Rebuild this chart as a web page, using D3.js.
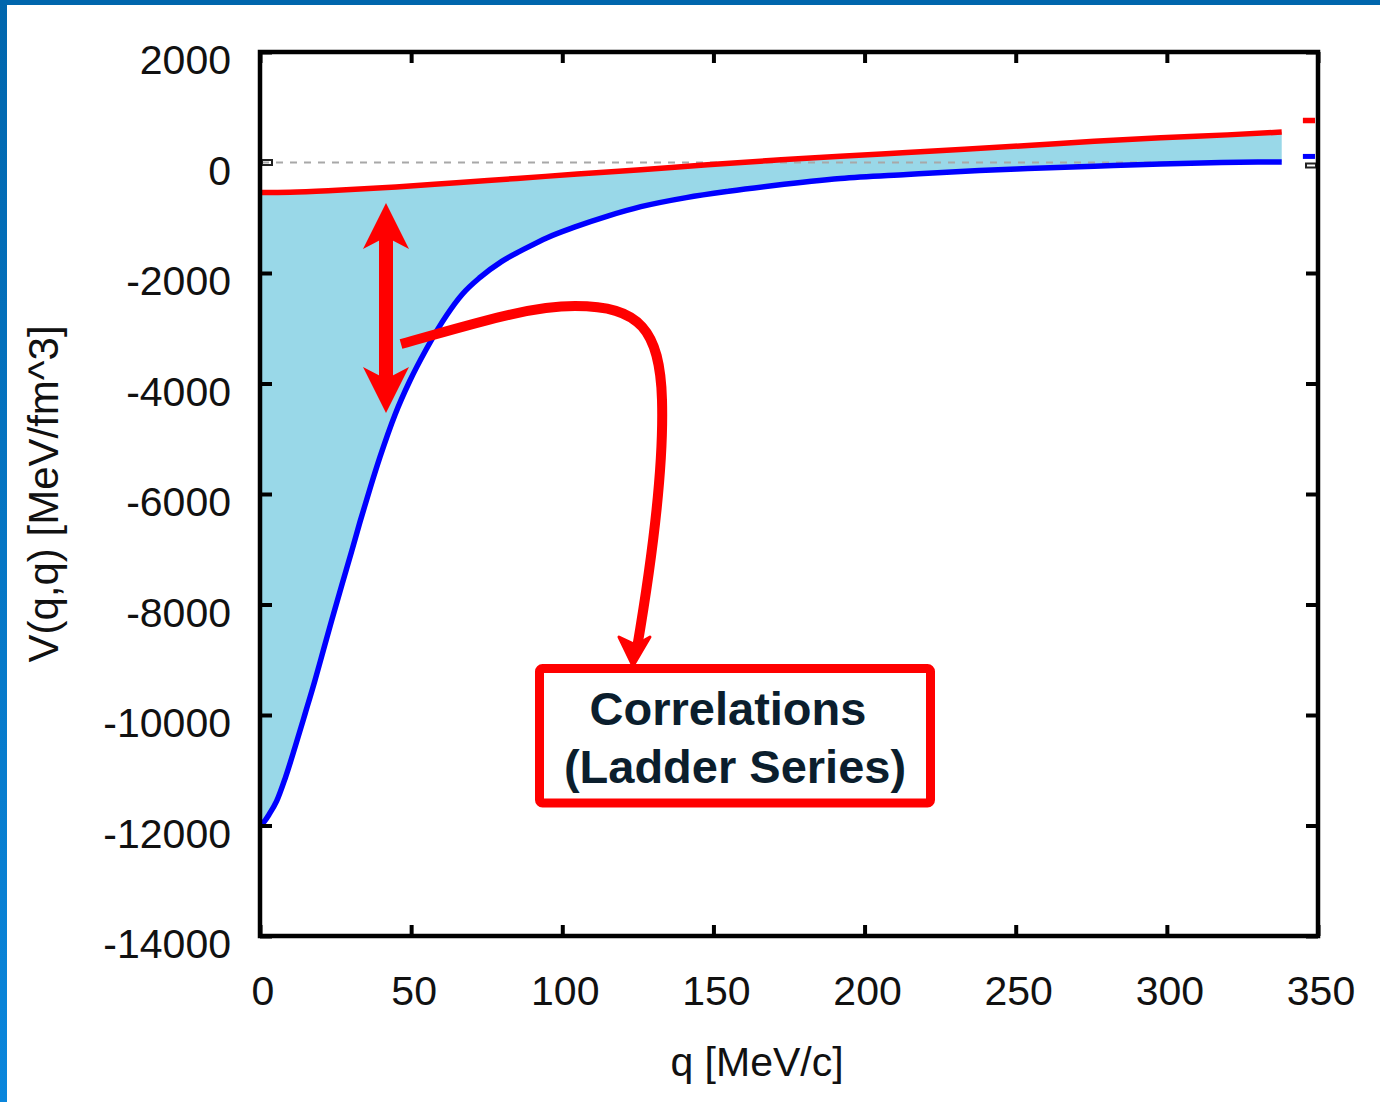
<!DOCTYPE html>
<html>
<head>
<meta charset="utf-8">
<script src="https://cdn.jsdelivr.net/npm/d3@7"></script>
<style>
  html, body { margin: 0; padding: 0; background: #fff; }
  svg { display: block; }
</style>
</head>
<body>
<svg id="chart" width="1380" height="1102"></svg>
<script>
// values
const xTicks = [0, 50, 100, 150, 200, 250, 300, 350];
const yTicks = [2000, 0, -2000, -4000, -6000, -8000, -10000, -12000, -14000];

// bare interaction (red), q [MeV/c] -> V [MeV fm^3]
const bareQ = [0, 10, 24, 45, 65, 85, 105, 126, 148, 170, 192, 214, 233, 254, 276, 298, 320, 338];
const bareV = [-545, -538, -508, -445, -365, -288, -210, -130, -40, 40, 115, 180, 238, 308, 385, 448, 500, 550];

// ladder-summed interaction (blue)
const ladderQ = [0, 1, 3, 5.5, 8.3, 11.6, 14.9, 18.2, 21, 23.7, 27, 30.3, 33.1, 36.4, 39.7, 44.7, 49.5, 55, 61.8, 67, 72.8, 80, 88, 95, 104, 115, 126, 141, 155, 170, 192, 214, 238, 254, 276, 298, 318, 338];
const ladderV = [-11980, -11950, -11800, -11560, -11150, -10580, -9980, -9370, -8820, -8290, -7660, -7040, -6500, -5900, -5330, -4560, -3960, -3380, -2760, -2380, -2080, -1790, -1550, -1360, -1170, -970, -800, -635, -520, -416, -290, -217, -145, -110, -66, -25, 0, 10];

// stray key marks at the right edge
const edgeQ = [345, 349];
const edgeRed = 760;
const edgeBlue = 110;

const svg = d3.select("#chart");

const x = d3.scaleLinear().domain([0, 350]).range([260, 1318]);
const y = d3.scaleLinear().domain([-14000, 2000]).range([936, 52]);

// slide border
const grad = svg.append("defs").append("linearGradient")
  .attr("id", "edge").attr("x1", 0).attr("y1", 0).attr("x2", 0).attr("y2", 1);
grad.append("stop").attr("offset", "0%").attr("stop-color", "#0066ad");
grad.append("stop").attr("offset", "100%").attr("stop-color", "#0a86dc");
svg.append("rect").attr("x", 0).attr("y", 0).attr("width", 1380).attr("height", 5).attr("fill", "#0066ad");
svg.append("rect").attr("x", 0).attr("y", 0).attr("width", 7).attr("height", 1102).attr("fill", "url(#edge)");

const bare = bareQ.map((q, i) => ({ q, v: bareV[i] }));
const ladder = ladderQ.map((q, i) => ({ q, v: ladderV[i] }));

// fill between the two curves, sampled on the union of q points
const qs = Array.from(new Set(bareQ.concat(ladderQ))).sort((a, b) => a - b);
const interp = (Q, V, q) => {
  const i = d3.bisectLeft(Q, q);
  if (i <= 0) return V[0];
  if (i >= Q.length) return V[V.length - 1];
  const t = (q - Q[i - 1]) / (Q[i] - Q[i - 1]);
  return V[i - 1] + t * (V[i] - V[i - 1]);
};
const fillData = qs.map(q => ({ q, top: interp(bareQ, bareV, q), bot: interp(ladderQ, ladderV, q) }));

svg.append("path")
  .datum(fillData)
  .attr("fill", "#99d8e8")
  .attr("d", d3.area().x(d => x(d.q)).y0(d => y(d.bot)).y1(d => y(d.top)).curve(d3.curveMonotoneX));

// zero line
svg.append("line")
  .attr("x1", x(0) + 2).attr("x2", x(338))
  .attr("y1", y(0)).attr("y2", y(0))
  .attr("stroke", "#a8a8a8")
  .attr("stroke-width", 1.8).attr("stroke-dasharray", "7,7");

const line = d3.line().x(d => x(d.q)).y(d => y(d.v)).curve(d3.curveMonotoneX);

svg.append("path").datum(ladder)
  .attr("fill", "none").attr("stroke", "#0000ff").attr("stroke-width", 5.5)
  .attr("d", line);
svg.append("path").datum(bare)
  .attr("fill", "none").attr("stroke", "#ff0000").attr("stroke-width", 5.5)
  .attr("d", line);

svg.append("line").attr("x1", x(edgeQ[0])).attr("x2", x(edgeQ[1]))
  .attr("y1", y(edgeRed)).attr("y2", y(edgeRed)).attr("stroke", "#ff0000").attr("stroke-width", 5.5);
svg.append("line").attr("x1", x(edgeQ[0])).attr("x2", x(edgeQ[1]))
  .attr("y1", y(edgeBlue)).attr("y2", y(edgeBlue)).attr("stroke", "#0000ff").attr("stroke-width", 5);

// zero tick marks ("=")
svg.append("rect").attr("x", x(0) + 2).attr("y", y(0) - 2.5).attr("width", 10).attr("height", 5)
  .attr("fill", "none").attr("stroke", "#222").attr("stroke-width", 2);
svg.append("rect").attr("x", x(350) - 12).attr("y", y(0) + 1).attr("width", 10).attr("height", 4)
  .attr("fill", "none").attr("stroke", "#222").attr("stroke-width", 2);

// axes with inward ticks
const font = "'Liberation Sans', Arial, sans-serif";

const gl = svg.append("g").attr("transform", `translate(${x(0)},0)`)
  .call(d3.axisLeft(y).tickValues(yTicks.filter(v => v !== 0)).tickSize(-12).tickFormat(""));
const gr = svg.append("g").attr("transform", `translate(${x(350)},0)`)
  .call(d3.axisRight(y).tickValues(yTicks.filter(v => v !== 0)).tickSize(-12).tickFormat(""));
const gb = svg.append("g").attr("transform", `translate(0,${y(-14000)})`)
  .call(d3.axisBottom(x).tickValues(xTicks).tickSize(-11).tickFormat(""));
const gt = svg.append("g").attr("transform", `translate(0,${y(2000)})`)
  .call(d3.axisTop(x).tickValues(xTicks).tickSize(-11).tickFormat(""));
[gl, gr, gb, gt].forEach(g => {
  g.select(".domain").remove();
  g.selectAll(".tick line").attr("stroke", "#000").attr("stroke-width", 4);
});

// frame
svg.append("rect")
  .attr("x", x(0)).attr("y", y(2000))
  .attr("width", x(350) - x(0)).attr("height", y(-14000) - y(2000))
  .attr("fill", "none").attr("stroke", "#000").attr("stroke-width", 4.5);

// tick labels
svg.append("g").selectAll("text").data(yTicks).join("text")
  .attr("x", 231).attr("y", d => y(d) + 8)
  .attr("dy", "0.35em")
  .attr("text-anchor", "end")
  .style("font-family", font).style("font-size", "41px").attr("fill", "#111")
  .text(d => d);
svg.append("g").selectAll("text").data(xTicks).join("text")
  .attr("x", d => x(d) + 3).attr("y", 1005)
  .attr("text-anchor", "middle")
  .style("font-family", font).style("font-size", "41px").attr("fill", "#111")
  .text(d => d);

// axis titles
svg.append("text")
  .attr("x", 757).attr("y", 1076)
  .attr("text-anchor", "middle")
  .style("font-family", font).style("font-size", "41px").attr("fill", "#111")
  .text("q [MeV/c]");
svg.append("text")
  .attr("transform", "translate(58,494) rotate(-90)")
  .attr("text-anchor", "middle")
  .style("font-family", font).style("font-size", "42px").attr("fill", "#111")
  .text("V(q,q) [MeV/fm^3]");

// annotation: double arrow between the curves
const red = "#ff0000";
const ax = 386;
const head = (tipY, dir) => {
  // notched arrowhead, dir = -1 points up, +1 points down
  const b = tipY - dir * 46, n = tipY - dir * 34;
  return `M${ax},${tipY} L${ax + 23},${b} L${ax},${n} L${ax - 23},${b} Z`;
};
svg.append("rect").attr("x", ax - 7).attr("y", 236).attr("width", 14).attr("height", 143).attr("fill", red);
svg.append("path").attr("d", head(203, -1)).attr("fill", red);
svg.append("path").attr("d", head(413, 1)).attr("fill", red);

// curved pointer to the label box
svg.append("path")
  .attr("d", "M401,344 C480,322 530,306 575,306 C640,306 660,330 662,400 C664,470 652,560 637,648")
  .attr("fill", "none").attr("stroke", red).attr("stroke-width", 10);
svg.append("path")
  .attr("d", "M633,666 L650,637 L636,645 L619,637 Z")
  .attr("fill", red).attr("stroke", red).attr("stroke-width", 3).attr("stroke-linejoin", "round");

// label box
svg.append("rect")
  .attr("x", 539.5).attr("y", 668.5).attr("width", 391).attr("height", 134.5)
  .attr("rx", 3)
  .attr("fill", "#fff").attr("stroke", red).attr("stroke-width", 9);
svg.append("text")
  .attr("x", 728).attr("y", 725)
  .attr("text-anchor", "middle")
  .style("font-family", font).style("font-size", "47px").style("font-weight", "bold")
  .attr("fill", "#0b1e2d")
  .text("Correlations");
svg.append("text")
  .attr("x", 735).attr("y", 783)
  .attr("text-anchor", "middle")
  .style("font-family", font).style("font-size", "47px").style("font-weight", "bold")
  .attr("fill", "#0b1e2d")
  .text("(Ladder Series)");
</script>
</body>
</html>
